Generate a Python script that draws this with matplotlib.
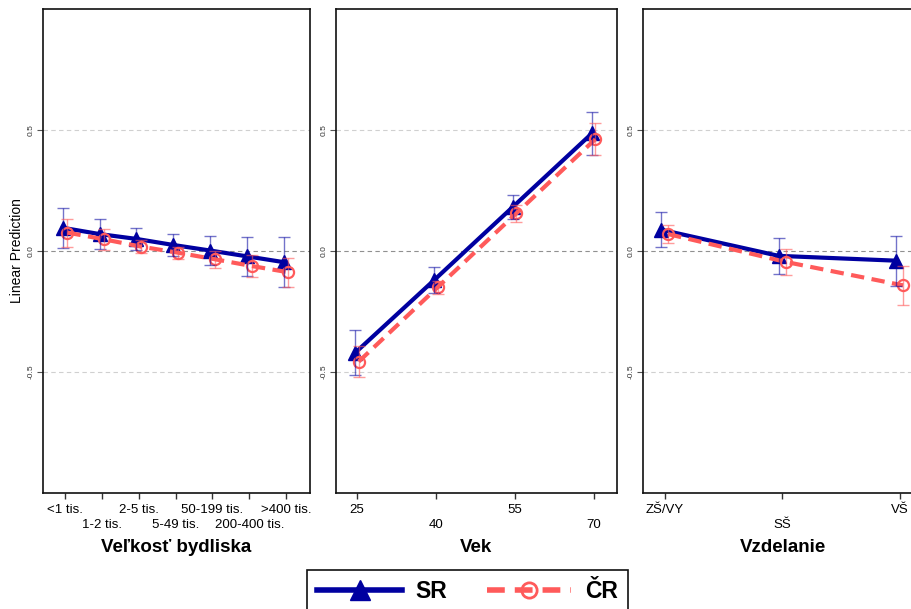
import matplotlib
matplotlib.use('Agg')
import matplotlib.pyplot as plt
from matplotlib.lines import Line2D

plt.rcParams['font.family'] = ['Liberation Sans', 'DejaVu Sans']

# data
size_labels = ['<1 tis.', '1-2 tis.', '2-5 tis.', '5-49 tis.', '50-199 tis.', '200-400 tis.', '>400 tis.']
size_sr = [0.096, 0.07, 0.05, 0.025, 0.002, -0.022, -0.046]
size_sr_ci = [0.083, 0.062, 0.046, 0.047, 0.061, 0.08, 0.104]
size_cr = [0.076, 0.048, 0.018, -0.007, -0.034, -0.062, -0.088]
size_cr_ci = [0.058, 0.043, 0.028, 0.025, 0.035, 0.044, 0.06]

ages = [25, 40, 55, 70]
age_sr = [-0.42, -0.12, 0.183, 0.486]
age_sr_ci = [0.093, 0.055, 0.05, 0.09]
age_cr = [-0.457, -0.15, 0.156, 0.462]
age_cr_ci = [0.063, 0.028, 0.035, 0.065]

edu_labels = ['ZŠ/VY', 'SŠ', 'VŠ']
edu_sr = [0.088, -0.02, -0.04]
edu_sr_ci = [0.072, 0.073, 0.103]
edu_cr = [0.07, -0.045, -0.142]
edu_cr_ci = [0.036, 0.054, 0.08]

SR_COLOR = '#0000A0'
CR_COLOR = '#FF5A5A'
DASH = (0, (3.2, 1.8))


# one marginsplot-like panel
def draw_panel(ax, x, sr, sr_ci, cr, cr_ci, shift, ticklabels, xlabel, xlim):
    xs = [v - shift for v in x]
    xc = [v + shift for v in x]
    ax.axhline(0.5, color='#d0d0d0', lw=0.8, ls=(0, (4, 3)), zorder=0)
    ax.axhline(-0.5, color='#d0d0d0', lw=0.8, ls=(0, (4, 3)), zorder=0)
    ax.axhline(0.0, color='#909090', lw=0.8, ls=(0, (4, 3)), zorder=0)

    ax.plot(xs, sr, color=SR_COLOR, lw=3, marker='^', ms=9.5, zorder=3)
    ax.plot(xc, cr, color=CR_COLOR, lw=3, ls=DASH, marker='o', ms=8,
            mfc='none', mew=1.6, zorder=4)
    ax.errorbar(xs, sr, yerr=sr_ci, fmt='none', ecolor=SR_COLOR, alpha=0.55,
                elinewidth=1, capsize=4.5, capthick=1, zorder=5)
    ax.errorbar(xc, cr, yerr=cr_ci, fmt='none', ecolor=CR_COLOR, alpha=0.6,
                elinewidth=1, capsize=4.5, capthick=1, zorder=5)

    ax.set_xlim(*xlim)
    ax.set_ylim(-1.0, 1.0)
    ax.set_xticks(x)
    ax.set_xticklabels(ticklabels)
    ax.tick_params(axis='x', length=4, width=1, pad=4, labelsize=9.5, color='#333333')
    # staggered labels: every second one sits on a lower row
    for t in ax.xaxis.get_major_ticks()[1::2]:
        t.set_pad(14.5)
    ax.set_yticks([-0.5, 0.0, 0.5])
    ax.set_yticklabels(['-0.5', '0.0', '0.5'])
    ax.tick_params(axis='y', length=4, width=0.8, pad=2, labelsize=6,
                   labelcolor='#333333', color='#555555')
    for lab in ax.get_yticklabels():
        lab.set_rotation(90)
        lab.set_va('center')
    for sp in ax.spines.values():
        sp.set_linewidth(1.2)
        sp.set_color('#111111')
    ax.set_xlabel(xlabel, fontsize=13.5, fontweight='bold')
    ax.xaxis.set_label_coords(0.5, -0.096)
    ax.xaxis.label.set_va('top')


fig = plt.figure(figsize=(9.12, 6.09), dpi=100)
bottom = (609 - 493) / 609
height = 484 / 609
ax1 = fig.add_axes([43 / 912, bottom, 267 / 912, height])
ax2 = fig.add_axes([336 / 912, bottom, 281 / 912, height])
ax3 = fig.add_axes([643 / 912, bottom, 280 / 912, height])

draw_panel(ax1, list(range(len(size_labels))), size_sr, size_sr_ci, size_cr, size_cr_ci,
           0.065, size_labels, 'Veľkosť bydliska', (-0.6, 6.65))
draw_panel(ax2, ages, age_sr, age_sr_ci, age_cr, age_cr_ci,
           0.32, [str(a) for a in ages], 'Vek', (21.0, 74.45))
draw_panel(ax3, list(range(len(edu_labels))), edu_sr, edu_sr_ci, edu_cr, edu_cr_ci,
           0.03, edu_labels, 'Vzdelanie', (-0.184, 2.2))

ax1.set_ylabel('Linear Prediction', fontsize=10)
ax1.yaxis.set_label_coords(-0.072, 0.5)

# legend at the bottom, partly cut off like the original
handles = [
    Line2D([], [], color=SR_COLOR, lw=4, marker='^', ms=15),
    Line2D([], [], color=CR_COLOR, lw=4, ls=DASH, marker='o', ms=11, mfc='none', mew=2),
]
leg = fig.legend(handles, ['SR', 'ČR'], loc='upper left',
                 bbox_to_anchor=(307 / 912, 1 - 570 / 609), borderaxespad=0,
                 ncol=2, numpoints=1,
                 handlelength=3.7, handletextpad=0.6, columnspacing=1.7,
                 borderpad=0.45, fancybox=False, framealpha=1,
                 prop={'weight': 'bold', 'size': 16.5})
leg.get_frame().set_edgecolor('#111111')
leg.get_frame().set_linewidth(1.2)

fig.savefig('out.png', dpi=100)
